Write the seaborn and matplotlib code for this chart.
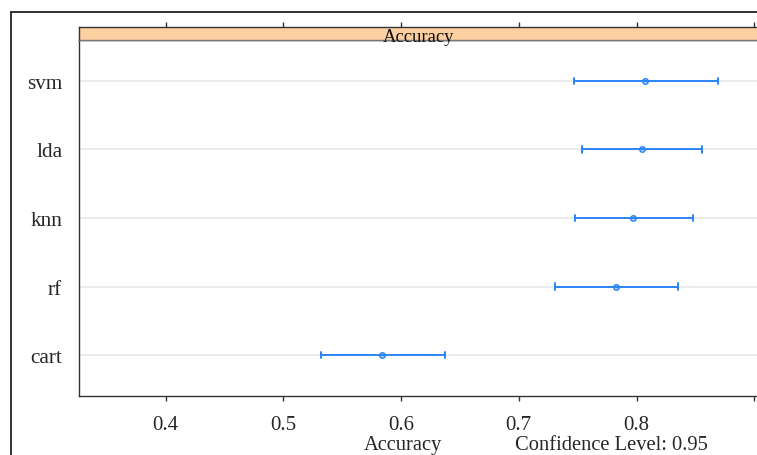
"""
模型准确率置信区间点图 (caret dotplot 风格)
"""

import pandas as pd
import matplotlib
matplotlib.use("Agg")
import matplotlib.pyplot as plt
import seaborn as sns

# 数据
models = ["svm", "lda", "knn", "rf", "cart"]
acc_lo = [0.747, 0.754, 0.748, 0.731, 0.532]
acc_mid = [0.807, 0.805, 0.797, 0.783, 0.584]
acc_hi = [0.869, 0.856, 0.848, 0.835, 0.637]
x_ticks = [0.4, 0.5, 0.6, 0.7, 0.8, 0.9]
x_tick_labels = ["0.4", "0.5", "0.6", "0.7", "0.8", ""]  # 0.9 标签在原图中被裁掉
strip_title = "Accuracy"
x_title = "Accuracy"
conf_text = "Confidence Level: 0.95"

BLUE = "#2b85f5"
STRIP = "#fdd0a2"

sns.set_style("white")
plt.rcParams["font.family"] = ["Liberation Serif", "DejaVu Serif"]

# 长表: 每个模型三个值, 中位数=中心, 0-100 分位区间=置信区间
rows = []
for m, lo, mid, hi in zip(models, acc_lo, acc_mid, acc_hi):
    for v in (lo, mid, hi):
        rows.append({"model": m, "acc": v})
df = pd.DataFrame(rows)

W, H = 757, 456
fig = plt.figure(figsize=(W / 100, H / 100), dpi=100)

# 像素 -> 图坐标
left_px, right_px = 79.3, 758.0
panel_top_px, panel_bot_px = 40.7, 397.3
strip_top_px = 28.3

ax = fig.add_axes([left_px / W, 1 - panel_bot_px / H,
                   (right_px - left_px) / W, (panel_bot_px - panel_top_px) / H])
ax_s = fig.add_axes([left_px / W, 1 - panel_top_px / H,
                     (right_px - left_px) / W, (panel_top_px - strip_top_px) / H],
                    sharex=ax)

# 网格线
for i in range(len(models)):
    ax.axhline(i, color="#e8e8e8", linewidth=1.2, zorder=0)

sns.pointplot(
    data=df, x="acc", y="model", order=models, orient="h",
    estimator="median", errorbar=("pi", 100), capsize=0.09,
    color=BLUE, linestyle="none", marker="o", markersize=4,
    markerfacecolor="#a9cdfb", markeredgecolor=BLUE, markeredgewidth=1.0,
    err_kws={"linewidth": 1.4}, ax=ax,
)

x_left = 0.4 - (165.7 - left_px) / 1177
x_right = 0.4 + (right_px - 165.7) / 1177
ax.set_xlim(x_left, x_right)
ax.set_ylim(4.6, -0.6)
ax.set_xticks(x_ticks)
ax.set_xticklabels(x_tick_labels)
ax.set_xlabel("")
ax.set_ylabel("")
ax.tick_params(axis="x", direction="out", length=3.6, width=1.0, color="#333333",
               labelsize=15, pad=10.0, bottom=True)
ax.tick_params(axis="y", length=0, labelsize=15.3, pad=12.3)
for sp in ax.spines.values():
    sp.set_color("#333333")
    sp.set_linewidth(1.0)

# 顶部条带
ax_s.set_facecolor(STRIP)
ax_s.set_yticks([])
ax_s.tick_params(axis="x", direction="out", length=3.6, width=1.0, color="#333333",
                 top=True, bottom=False, labeltop=False, labelbottom=False)
for sp in ax_s.spines.values():
    sp.set_color("#333333")
    sp.set_linewidth(1.0)
ax_s.spines["bottom"].set_color("#777777")
ax_s.text(0.5, -0.08, strip_title, transform=ax_s.transAxes, ha="center",
          va="baseline", fontsize=13.4, color="#111111", clip_on=False, zorder=5)

# 底部文字
fig.text(403 / W, 1 - 450 / H, x_title, ha="center", va="baseline", fontsize=14.8)
fig.text(515 / W, 1 - 450 / H, conf_text, ha="left", va="baseline", fontsize=14.8)

# 外框
frame_x, frame_y = 11.0 / W, 1 - 12.7 / H
fig.add_artist(plt.Line2D([frame_x, frame_x], [frame_y, -0.01], color="#222222",
                          linewidth=1.3, transform=fig.transFigure))
fig.add_artist(plt.Line2D([frame_x, 1.01], [frame_y, frame_y], color="#222222",
                          linewidth=1.3, transform=fig.transFigure))

fig.savefig("out.png", dpi=100)
plt.close(fig)
